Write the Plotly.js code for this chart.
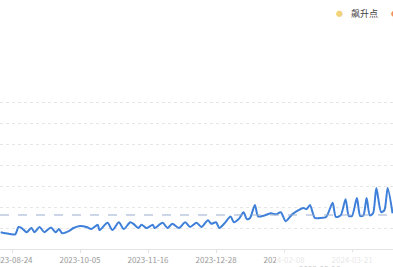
<!DOCTYPE html>
<html>
<head>
<meta charset="utf-8">
<script src="https://cdn.plot.ly/plotly-3.0.1.min.js"></script>
<style>html,body{margin:0;padding:0;background:#fff;overflow:hidden;width:393px;height:267px;}#chart{position:absolute;left:-40px;top:0;width:473px;height:267px;}</style>
</head>
<body>
<div id="chart"></div>
<script>
const dates = ['2023-08-17','2023-08-20','2023-08-26','2023-08-28','2023-08-30','2023-09-02','2023-09-05','2023-09-07','2023-09-10','2023-09-13',
'2023-09-17','2023-09-20','2023-09-22','2023-09-24','2023-09-28','2023-10-01','2023-10-05','2023-10-09','2023-10-12','2023-10-16',
'2023-10-17','2023-10-22','2023-10-25','2023-10-29','2023-11-01','2023-11-05','2023-11-07','2023-11-10','2023-11-12','2023-11-15',
'2023-11-19','2023-11-20','2023-11-25','2023-11-28','2023-12-01','2023-12-05','2023-12-09','2023-12-12','2023-12-16','2023-12-19',
'2023-12-23','2023-12-25','2023-12-28','2023-12-30','2024-01-02','2024-01-06','2024-01-08','2024-01-11','2024-01-14','2024-01-16',
'2024-01-18','2024-01-21','2024-01-23','2024-01-27','2024-01-31','2024-02-03','2024-02-06','2024-02-09','2024-02-13','2024-02-17',
'2024-02-20','2024-02-22','2024-02-24','2024-02-27','2024-03-01','2024-03-05','2024-03-09','2024-03-11','2024-03-14','2024-03-17',
'2024-03-19','2024-03-21','2024-03-24','2024-03-26','2024-03-28','2024-03-30','2024-04-01','2024-04-03','2024-04-05','2024-04-08',
'2024-04-10','2024-04-12','2024-04-15'];
const values = [16,15,14,21,20,16,20,16,21,16,
20.5,16,19,15,17,20,22,21,19,23,
18,25,18,25.5,19,25.5,24,20,23,20,
23,20,25,20,24,20,25.5,21,25,21,
27.5,24,25.5,20,24,31,25.5,28.5,35,28.5,
29.5,42,31,32,34,33,35,26.5,33,37,
39,38,42,29.5,29.5,30.5,44,30.5,32,47.5,
31.5,31.5,48.5,31.5,32,48.5,32,34,58,35,
37,58,34];
const markValue = [32.4];
const legendNames = ['飙升点'];

const fontFam = 'Noto Sans CJK SC, Noto Sans, sans-serif';
const W = 473, L = 40, PW = 393;
const px = v => v / PW;          // window pixel -> paper x (plot area spans the window)
const py = v => (249 - v) / 148; // window pixel -> paper y
const data = [{
  x: dates, y: values, type: 'scatter', mode: 'lines',
  line: {color: '#3d7fd9', width: 2, shape: 'spline', smoothing: 0.7},
  hoverinfo: 'skip', showlegend: false
}];
const xRange = ['2023-08-16 14:00', '2024-04-15 07:00'];
const layout = {
  width: W, height: 267,
  margin: {l: L, r: W - L - PW, t: 101, b: 18, pad: 0},
  paper_bgcolor: 'rgba(0,0,0,0)', plot_bgcolor: '#fff',
  showlegend: false,
  font: {family: fontFam, size: 8, color: '#9a9a9a'},
  xaxis: {
    type: 'date', range: xRange,
    tick0: '2023-08-24', dtick: 42*86400000, tickformat: '%Y-%m-%d',
    showgrid: false, showline: true, linecolor: '#e3e3e3', linewidth: 1,
    ticks: 'outside', ticklen: 3, tickcolor: '#e3e3e3',
    tickfont: {size: 8, color: '#9a9a9a'}, zeroline: false
  },
  yaxis: {
    range: [0, 141], dtick: 20, showticklabels: false,
    showgrid: true, gridcolor: '#e6e6e6', griddash: 'dot', gridwidth: 1,
    zeroline: false, showline: false
  },
  shapes: [
    {type: 'line', xref: 'paper', x0: px(0), x1: px(393), yref: 'y', y0: markValue[0], y1: markValue[0],
     line: {color: '#98aed0', width: 1, dash: 'dash'}},
    {type: 'rect', xref: 'paper', yref: 'paper', x0: px(276), x1: px(393), y0: py(252), y1: py(267),
     fillcolor: 'rgba(255,255,255,0.75)', line: {width: 0}, layer: 'above'}
  ],
  annotations: [
    {xref: 'paper', yref: 'paper', x: px(339), y: py(13), text: '●', showarrow: false,
     font: {size: 7, color: '#f2d37c'}, xanchor: 'center', yanchor: 'middle'},
    {xref: 'paper', yref: 'paper', x: px(349), y: py(13), text: legendNames[0], showarrow: false,
     font: {size: 9, color: '#444', family: fontFam}, xanchor: 'left', yanchor: 'middle'},
    {xref: 'paper', yref: 'paper', x: px(394), y: py(13), text: '●', showarrow: false,
     font: {size: 7, color: '#f08a6b'}, xanchor: 'center', yanchor: 'middle'},
    {xref: 'paper', yref: 'paper', x: px(320), y: py(261), text: '2023-03-16', showarrow: false,
     font: {size: 8, color: '#c8c8c8'}, xanchor: 'center', yanchor: 'top'}
  ]
};
Plotly.newPlot('chart', data, layout, {staticPlot: true, displayModeBar: false});
</script>
</body>
</html>
